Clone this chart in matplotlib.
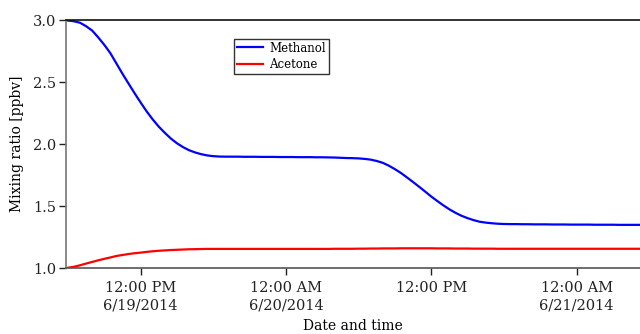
import numpy as np
import pandas as pd
import matplotlib as mpl
mpl.use('Agg')
import matplotlib.pyplot as plt

plt.rcParams['font.family'] = ['DejaVu Serif']

# half-hourly samples starting 6/19/2014 06:00
start = pd.Timestamp('2014-06-19 06:00')
methanol = [2.996, 2.99, 2.978, 2.95, 2.915, 2.86, 2.80, 2.733, 2.65, 2.567,
            2.488, 2.41, 2.335, 2.263, 2.198, 2.14, 2.09, 2.044, 2.006, 1.975,
            1.95, 1.932, 1.918, 1.908, 1.902, 1.899,
            1.898, 1.898, 1.898, 1.897, 1.897, 1.897, 1.896, 1.896, 1.896,
            1.895, 1.895, 1.895, 1.894, 1.894, 1.894, 1.893, 1.893, 1.892,
            1.891, 1.889, 1.887, 1.886, 1.884, 1.88, 1.874, 1.863, 1.848,
            1.825, 1.797, 1.766, 1.73, 1.693, 1.655, 1.616, 1.576, 1.54,
            1.505, 1.473, 1.445, 1.421, 1.402, 1.386, 1.373, 1.366, 1.361,
            1.357, 1.355,
            1.354, 1.354, 1.353, 1.353, 1.352, 1.352, 1.352, 1.351, 1.351,
            1.351, 1.350, 1.350, 1.350, 1.350, 1.349, 1.349, 1.349, 1.349,
            1.348, 1.348, 1.348, 1.348, 1.348]
acetone = [1.002, 1.01, 1.022, 1.036, 1.049, 1.062, 1.074, 1.085, 1.097,
           1.105, 1.113, 1.119, 1.124, 1.13, 1.135, 1.139, 1.142, 1.145,
           1.147, 1.149, 1.151, 1.152, 1.153,
           1.154, 1.154, 1.154, 1.154, 1.154, 1.154, 1.154, 1.154, 1.154,
           1.154, 1.154, 1.154, 1.154, 1.154, 1.154, 1.154, 1.154, 1.154,
           1.154, 1.154, 1.154, 1.155, 1.155,
           1.155, 1.155, 1.156, 1.156, 1.157, 1.157, 1.158, 1.158, 1.158,
           1.159, 1.159, 1.159, 1.159, 1.159, 1.159, 1.158, 1.158, 1.158,
           1.157, 1.157, 1.157, 1.156, 1.156, 1.156, 1.156,
           1.155, 1.155, 1.155, 1.155, 1.155, 1.155, 1.155, 1.155, 1.155,
           1.155, 1.155, 1.155, 1.155, 1.155, 1.155, 1.155, 1.155, 1.155,
           1.155, 1.155, 1.155, 1.155, 1.155, 1.155, 1.155]
tick_times = ['2014-06-19 12:00', '2014-06-20 00:00', '2014-06-20 12:00',
              '2014-06-21 00:00']
tick_labels = ['12:00 PM\n6/19/2014', '12:00 AM\n6/20/2014', '12:00 PM',
               '12:00 AM\n6/21/2014']

t = pd.date_range(start, periods=len(methanol), freq='30min')

fig = plt.figure(figsize=(6.4, 3.34), dpi=100)
ax = fig.add_axes([0.103, 0.1976, 0.897, 0.7424])
ax.plot(t, methanol, color='#0000ff', lw=1.6, label='Methanol')
ax.plot(t, acetone, color='#ff0000', lw=1.6, label='Acetone')

ax.set_xlim(start - pd.Timedelta(minutes=10),
            pd.Timestamp('2014-06-21 05:14'))
ax.set_ylim(1.0, 3.0)
ax.set_yticks([1.0, 1.5, 2.0, 2.5, 3.0])
ax.set_yticklabels(['1.0', '1.5', '2.0', '2.5', '3.0'])
ax.set_xticks(pd.to_datetime(tick_times))
ax.set_xticklabels(tick_labels, linespacing=1.35)

ax.spines['right'].set_visible(False)
ax.spines['top'].set_color('#111111')
ax.spines['left'].set_color('#777777')
ax.spines['bottom'].set_color('#555555')
for s in ax.spines.values():
    s.set_linewidth(1.2)
ax.tick_params(axis='both', labelsize=10.5, colors='#222222', length=5,
               width=1.0)
ax.tick_params(axis='x', pad=4)
ax.tick_params(axis='y', pad=2)
ax.set_xlabel('Date and time', fontsize=10, labelpad=5)
ax.set_ylabel('Mixing ratio [ppbv]', fontsize=10, labelpad=6)

leg = ax.legend(loc='upper left', bbox_to_anchor=(0.293, 0.925),
                fontsize=8.5, frameon=True, fancybox=False,
                borderpad=0.25, handlelength=2.2, handletextpad=0.5,
                labelspacing=0.3, borderaxespad=0)
leg.get_frame().set_edgecolor('black')
leg.get_frame().set_linewidth(1.0)

fig.savefig('out.png', dpi=100)
